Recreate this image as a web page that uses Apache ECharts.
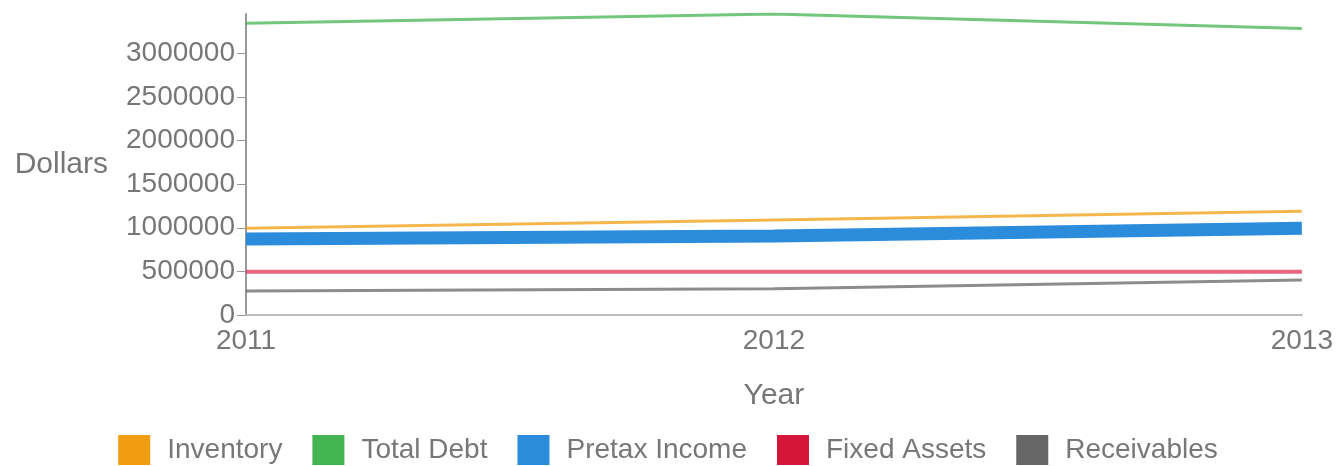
<!DOCTYPE html>
<html><head><meta charset="utf-8">
<script src="https://cdn.jsdelivr.net/npm/echarts@6/dist/echarts.min.js"></script>
<style>html,body{margin:0;padding:0;background:#fff}#c{width:1336px;height:466px}</style>
</head><body><div id="c"></div>
<script>
const years = ['2011', '2012', '2013'];
const inventory = [995000, 1090000, 1190000];
const totalDebt = [3345000, 3450000, 3285000];
const pretaxIncome = [870000, 905000, 995000];
const fixedAssets = [495000, 495000, 495000];
const receivables = [275000, 300000, 400000];
const seriesNames = ['Inventory', 'Total Debt', 'Pretax Income', 'Fixed Assets', 'Receivables'];
const colors = ['#f09d12', '#43b450', '#2b8cdb', '#d6153a', '#666666'];
const widths = [3, 3, 13, 4, 3];
const opac = [0.75, 0.75, 1, 0.65, 0.75];
const dataArr = [inventory, totalDebt, pretaxIncome, fixedAssets, receivables];

const font = 'Liberation Sans, Arial, sans-serif';
const chart = echarts.init(document.getElementById('c'));
chart.setOption({
  animation: false,
  color: colors,
  textStyle: {fontFamily: font},
  grid: {left: 246, right: 33, top: 14, bottom: 151, containLabel: false},
  legend: {
    bottom: 1, left: 'center', itemWidth: 32, itemHeight: 30, itemGap: 30, padding: 0,
    icon: 'rect',
    textStyle: {fontSize: 28, color: '#777', fontFamily: font, padding: [0,0,0,12]},
    data: seriesNames
  },
  xAxis: {
    type: 'category', data: years, boundaryGap: false,
    name: 'Year', nameLocation: 'middle', nameGap: 66,
    nameTextStyle: {fontSize: 30, color: '#777'},
    axisLine: {lineStyle: {color: '#bbb', width: 2}},
    axisTick: {show: false},
    axisLabel: {fontSize: 28, color: '#777', margin: 12}
  },
  yAxis: {
    type: 'value', min: 0, max: 3450000, interval: 500000,
    name: 'Dollars', nameLocation: 'middle', nameRotate: 0, nameGap: 138,
    nameTextStyle: {fontSize: 30, color: '#777', padding: [8,0,0,0]},
    axisLine: {show: true, lineStyle: {color: '#999', width: 2}},
    axisTick: {show: true, length: 9, lineStyle: {color: '#999'}},
    splitLine: {show: false},
    axisLabel: {fontSize: 28, color: '#777', margin: 11, showMaxLabel: false, formatter: v => String(v)}
  },
  series: seriesNames.map((n, i) => ({
    name: n, type: 'line', data: dataArr[i], symbol: 'none',
    lineStyle: {width: widths[i], color: colors[i], opacity: opac[i]},
    itemStyle: {color: colors[i]}
  }))
});
</script></body></html>
